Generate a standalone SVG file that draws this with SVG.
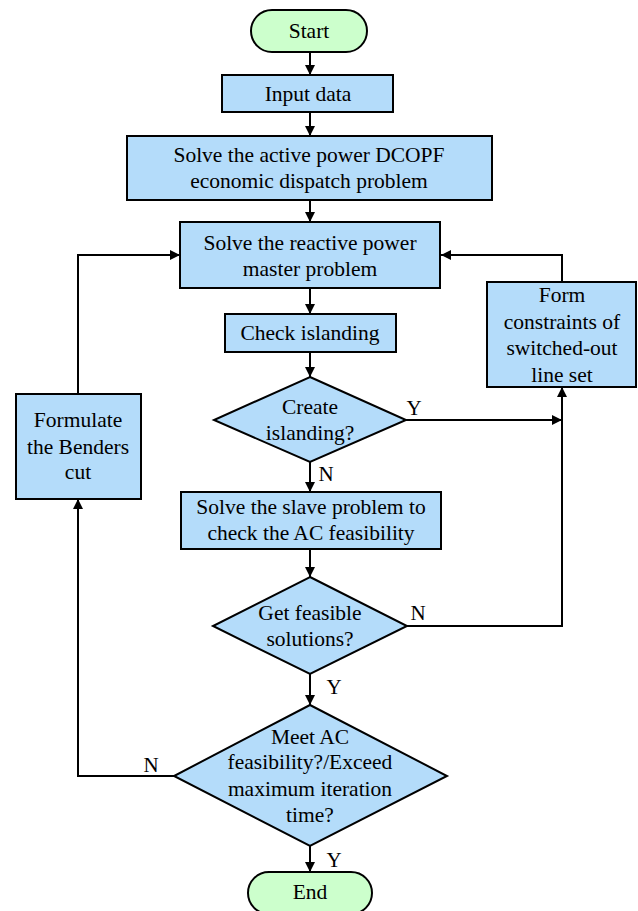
<svg xmlns="http://www.w3.org/2000/svg" width="638" height="911" viewBox="0 0 638 911">
<defs>
<marker id="arr" viewBox="0 0 10 10" refX="10" refY="5" markerWidth="10" markerHeight="10" markerUnits="userSpaceOnUse" orient="auto">
<path d="M0,0 L10,5 L0,10 Z" fill="#000"/>
</marker>
</defs>
<style>
.box{fill:#b4dcfa;stroke:#000;stroke-width:2}
.term{fill:#ccffcc;stroke:#000;stroke-width:2}
.t{font-family:"Liberation Serif","Times New Roman",serif;font-size:21.5px;fill:#000;text-anchor:middle;dominant-baseline:central}
.lbl{font-family:"Liberation Serif","Times New Roman",serif;font-size:21px;fill:#000;text-anchor:middle;dominant-baseline:central}
.c{fill:none;stroke:#000;stroke-width:2;marker-end:url(#arr)}
</style>
<rect width="638" height="911" fill="#fff"/>
<g id="connectors">
<path class="c" d="M310,52 V75"/>
<path class="c" d="M310,112 V136"/>
<path class="c" d="M310,200 V222"/>
<path class="c" d="M310,288 V314"/>
<path class="c" d="M310,352 V377"/>
<path class="c" d="M310,462 V492"/>
<path class="c" d="M310,549 V577"/>
<path class="c" d="M310,674 V705"/>
<path class="c" d="M310,846 V872"/>
<path class="c" d="M406,420 H562"/>
<path class="c" d="M407,626 H562 V387"/>
<path class="c" d="M562,282 V255 H441"/>
<path class="c" d="M174,776 H78 V499"/>
<path class="c" d="M78,394 V255 H180"/>
<text class="lbl" x="414" y="408">Y</text>
<text class="lbl" x="326" y="474">N</text>
<text class="lbl" x="418" y="613">N</text>
<text class="lbl" x="334" y="687">Y</text>
<text class="lbl" x="151" y="765">N</text>
<text class="lbl" x="334" y="860">Y</text>
</g>
<g id="start">
<rect class="term" x="251" y="10" width="116" height="42" rx="21"/>
<text class="t" x="309" y="31">Start</text>
</g>
<g id="input">
<rect class="box" x="222" y="75" width="171" height="37"/>
<text class="t" x="308" y="94">Input data</text>
</g>
<g id="dcopf">
<rect class="box" x="127" y="136" width="365" height="64"/>
<text class="t" x="309" y="155">Solve the active power DCOPF</text>
<text class="t" x="309" y="181">economic dispatch problem</text>
</g>
<g id="master">
<rect class="box" x="180" y="222" width="260" height="66"/>
<text class="t" x="310" y="243">Solve the reactive power</text>
<text class="t" x="310" y="269">master problem</text>
</g>
<g id="check">
<rect class="box" x="225" y="314" width="171" height="38"/>
<text class="t" x="310" y="333">Check islanding</text>
</g>
<g id="form">
<rect class="box" x="487" y="282" width="149" height="105"/>
<text class="t" x="562" y="295">Form</text>
<text class="t" x="562" y="322">constraints of</text>
<text class="t" x="562" y="348">switched-out</text>
<text class="t" x="562" y="375">line set</text>
</g>
<g id="benders">
<rect class="box" x="16" y="394" width="125" height="105"/>
<text class="t" x="78" y="420">Formulate</text>
<text class="t" x="78" y="447">the Benders</text>
<text class="t" x="78" y="472">cut</text>
</g>
<g id="islanding">
<polygon class="box" points="310,377 406,420 310,462 214,420"/>
<text class="t" x="310" y="407">Create</text>
<text class="t" x="310" y="433">islanding?</text>
</g>
<g id="slave">
<rect class="box" x="181" y="492" width="260" height="57"/>
<text class="t" x="311" y="507">Solve the slave problem to</text>
<text class="t" x="311" y="533">check the AC feasibility</text>
</g>
<g id="feasible">
<polygon class="box" points="310,577 407,626 310,674 213,626"/>
<text class="t" x="310" y="613">Get feasible</text>
<text class="t" x="310" y="639">solutions?</text>
</g>
<g id="meet">
<polygon class="box" points="310,705 447,776 310,846 174,776"/>
<text class="t" x="310" y="737">Meet AC</text>
<text class="t" x="310" y="762">feasibility?/Exceed</text>
<text class="t" x="310" y="789">maximum iteration</text>
<text class="t" x="310" y="815">time?</text>
</g>
<g id="end">
<rect class="term" x="248" y="872" width="124" height="42" rx="21"/>
<text class="t" x="310" y="892">End</text>
</g>
</svg>
